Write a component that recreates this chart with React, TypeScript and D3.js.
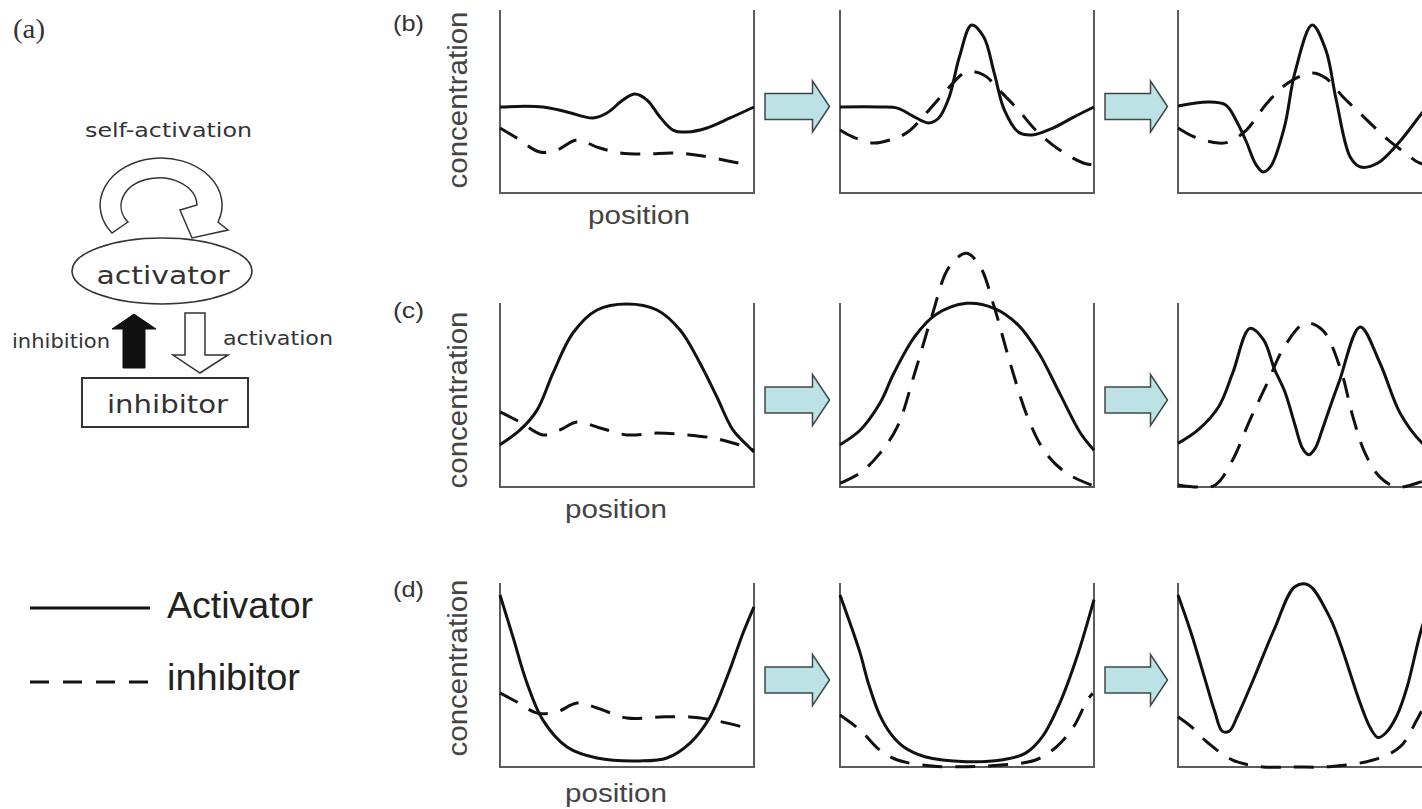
import React from 'react';
import * as d3 from 'd3';

type Pt = [number, number];

// ---- Data (position 0..100, concentration 0..100) ----
const b1Activator: Pt[] = [[0,47],[16.9,47],[26.4,44.3],[36.6,41],[42.1,43.7],[48.4,50.8],[53.1,54.1],[57.9,50.8],[63,41.5],[68.1,34.4],[73.6,33.3],[81.5,35.5],[90.6,41],[100,47]];
const b1Inhibitor: Pt[] = [[0,35.5],[6.7,30],[15.7,22.4],[22.4,23.5],[30.3,29],[38.2,25.1],[47.2,21.9],[57.9,21.3],[68.1,21.9],[79.9,20.2],[95.7,15.8]];
const b2Activator: Pt[] = [[0,47],[15.7,47],[22.6,46.4],[29.4,41.5],[34.8,38.3],[38.9,41],[43,52.5],[47,74.3],[51.8,91.8],[56.6,85.2],[60.7,65.6],[64.7,45.4],[70.2,33.3],[75.6,31.7],[83.8,35.5],[92,41.5],[100,47]];
const b2Inhibitor: Pt[] = [[0,34.4],[5.1,30.6],[13,27.3],[19.8,29],[26.7,33.3],[36.1,47],[43,57.9],[49.8,66.1],[56.6,64.5],[63.4,55.2],[70.2,45.4],[77,34.4],[86.5,23.5],[95.8,16.4],[100,15.3]];
const b3Activator: Pt[] = [[0,47.5],[12,49.7],[18.8,48.1],[22.8,39.9],[26.9,28],[30.5,16],[33.5,11.5],[36.5,14.5],[41.9,36.1],[46,65.6],[52.8,91.8],[58.2,78.1],[62.3,50.8],[67.8,19.7],[71.9,14.2],[78.7,16.4],[86.8,27.3],[96.1,43.7],[100,50]];
const b3Inhibitor: Pt[] = [[0,35.5],[6.5,30.6],[16,27.3],[20.1,27.9],[26.9,34.4],[35.1,49.2],[43.3,60.1],[52.8,65.6],[58.2,62.8],[65,52.5],[73.2,41.5],[82.7,29],[89.5,21.9],[95,16.4],[100,15]];

const c1Activator: Pt[] = [[0,23],[7.9,31],[14.6,41.8],[20.9,62],[28.7,83.7],[38.2,96.2],[50,99.5],[61.8,96.2],[70.9,85.3],[78.7,67.4],[85.4,48.9],[91.7,31],[98.4,21.2],[100,19]];
const c1Inhibitor: Pt[] = [[0,40.8],[7.9,35.3],[16.9,28.3],[23.6,31],[30.3,35.3],[39.4,32.1],[50,28.3],[61.8,29.3],[73.6,28.3],[83.9,26.6],[91.7,23.9],[100,20]];
const c2Activator: Pt[] = [[0,23],[8,31],[15.7,45.5],[21.2,61.8],[29.4,81.7],[37.5,93.5],[49.8,99.8],[60.7,97.1],[70.2,88],[78.3,72.7],[86.5,50.9],[94.7,29.2],[100,20]];
const c2Inhibitor: Pt[] = [[0,2],[7.9,7.6],[15.7,18.3],[22.6,32.8],[29.4,61.8],[36.1,92.6],[43,119.7],[49.8,127],[55.2,119.7],[60.7,98],[67.4,65.4],[74.3,36.4],[81.1,18.3],[89.3,7.4],[100,0.5]];
const c3Activator: Pt[] = [[0,23.7],[7.9,31],[16,43.6],[21.5,61.8],[28.3,86.2],[33.7,79.9],[38,64],[42,52],[46,34],[49,21],[51.4,17.5],[54,21],[57,32],[61,48],[63.7,58.2],[71.7,87],[79.5,67.4],[87.4,40.2],[96.1,23.9],[100,20]];
const c3Inhibitor: Pt[] = [[0,1.1],[7.9,0],[14.7,1.1],[21.5,14.7],[28.3,36.4],[35.1,56.4],[41.9,76.3],[50.1,89],[56.9,85.3],[63.7,65.4],[68.9,38],[73.6,18.5],[79.5,5.4],[86.2,0],[96.1,3],[100,5]];

const d1Activator: Pt[] = [[0,93.5],[5.1,70.7],[10.6,45.7],[16.9,25.5],[26.4,10.9],[38.2,4.9],[55.1,3.3],[65.7,4.9],[74.8,13],[82.7,27.2],[89.4,48.9],[95.7,72.8],[100,87]];
const d1Inhibitor: Pt[] = [[0,40.2],[6.7,35.3],[14.6,29.3],[22.4,29.9],[30.3,34.8],[38.2,32.1],[50,26.6],[63,27.2],[74.8,27.2],[83.9,25.5],[95.7,21.7]];
const d2Activator: Pt[] = [[0,93.5],[4,78],[7.9,62],[11.5,44],[15.7,28],[20,18],[25,11],[33.4,5.6],[49.8,2.9],[63.4,3.8],[72.9,7.4],[79.7,16.5],[86.5,34.6],[93.3,59.9],[100,91]];
const d2Inhibitor: Pt[] = [[0,28.3],[7.9,20.1],[15.7,9.2],[22.6,3.8],[36.1,0.5],[49.8,0.2],[63.4,1.1],[77,3.8],[85.2,11],[92,21.9],[97.4,36.4],[99.5,40]];
const d3Activator: Pt[] = [[0,93.5],[5.2,72.7],[11,46],[14.5,30],[17.4,19.5],[20.2,19.5],[23.5,28],[29.6,47.3],[37.8,74.5],[46,98],[51.4,98.9],[59.6,81.7],[63.8,67.4],[71.7,34.8],[75.8,21],[78.7,16],[81.8,18.5],[86.2,28],[90.2,43.5],[96.1,76.1],[100,90]];
const d3Inhibitor: Pt[] = [[0,27.3],[5.2,21.9],[12,12.9],[21.5,3.8],[32.4,0.2],[46,0],[59.6,0.2],[76.8,3.8],[87.4,10.9],[94,25.5],[96.1,31],[100,40]];

const rowLabels = ['(b)', '(c)', '(d)'];
const xAxisLabel = 'position';
const yAxisLabel = 'concentration';
const legendLabels = ['Activator', 'inhibitor'];

const rowSeries: [Pt[], Pt[]][][] = [
  [[b1Activator, b1Inhibitor], [b2Activator, b2Inhibitor], [b3Activator, b3Inhibitor]],
  [[c1Activator, c1Inhibitor], [c2Activator, c2Inhibitor], [c3Activator, c3Inhibitor]],
  [[d1Activator, d1Inhibitor], [d2Activator, d2Inhibitor], [d3Activator, d3Inhibitor]],
];

// ---- Layout ----
const PLOT_W = 254;
const COL_LEFT = [500, 840, 1178];
const ROWS = [
  { top: 10, bottom: 193, labelY: 31, yLabCy: 100, xLabCx: 639, xLabY: 224 },
  { top: 303, bottom: 487, labelY: 318, yLabCy: 400, xLabCx: 616, xLabY: 518 },
  { top: 583, bottom: 767, labelY: 597, yLabCy: 668, xLabCx: 616, xLabY: 802 },
];
const SANS = '"Liberation Sans", Arial, Helvetica, sans-serif';

function Plot({ left, top, bottom, act, inh }: any) {
  const x = d3.scaleLinear().domain([0, 100]).range([left, left + PLOT_W]);
  const y = d3.scaleLinear().domain([0, 100]).range([bottom, top]);
  const line = d3.line<Pt>().x(d => x(d[0])).y(d => y(d[1])).curve(d3.curveCatmullRom.alpha(0.5));
  return (
    <g>
      <path d={`M${x(0)},${y(100)}V${y(0)}H${x(100)}V${y(100)}`} fill="none" stroke="#5c5c5c" strokeWidth={2} />
      <path d={line(act) || ''} fill="none" stroke="#111" strokeWidth={3} strokeLinejoin="round" />
      <path d={line(inh) || ''} fill="none" stroke="#111" strokeWidth={3} strokeDasharray="20 13" />
    </g>
  );
}

function BlockArrow({ x0, x1, cy }: { x0: number; x1: number; cy: number }) {
  const headLen = 17, bodyH = 13, headH = 25.5;
  const hx = x1 - headLen;
  const pts = [
    [x0, cy - bodyH], [hx, cy - bodyH], [hx, cy - headH], [x1, cy],
    [hx, cy + headH], [hx, cy + bodyH], [x0, cy + bodyH],
  ].map(p => p.join(',')).join(' ');
  return <polygon points={pts} fill="#bde2e6" stroke="#3c4748" strokeWidth={1.5} strokeLinejoin="miter" />;
}

function PanelA() {
  const txt = '#333';
  const diagFont = '"DejaVu Sans", "Noto Sans", sans-serif';
  return (
    <g>
      <text x={13} y={38} fontFamily='"Liberation Serif", "DejaVu Serif", serif' fontSize={27} fill={txt} textLength={32} lengthAdjust="spacingAndGlyphs">(a)</text>
      <text x={85} y={137} fontFamily={diagFont} fontSize={19} fill={txt} textLength={167} lengthAdjust="spacingAndGlyphs">self-activation</text>
      <path d="M112,233 A61,47 0 1 1 218,222 L228,230 L192,238 L180,210 L197,205 A38,28 0 1 0 128,222 Z"
        fill="#fff" stroke="#333" strokeWidth={1.5} strokeLinejoin="miter" />
      <ellipse cx={162} cy={271} rx={90} ry={33} fill="#fff" stroke="#333" strokeWidth={1.6} />
      <text x={163} y={284} textAnchor="middle" fontFamily={diagFont} fontSize={25} fill={txt} textLength={133} lengthAdjust="spacingAndGlyphs">activator</text>
      <polygon points="134,314 156,329 145,329 145,368 123,368 123,329 112,329" fill="#111" stroke="#111" strokeWidth={1} />
      <polygon points="185,313 205,313 205,355 228,355 200,373 173,355 185,355" fill="#fff" stroke="#333" strokeWidth={1.5} />
      <text x={12} y={348} fontFamily={diagFont} fontSize={19} fill={txt} textLength={98} lengthAdjust="spacingAndGlyphs">inhibition</text>
      <text x={223} y={345} fontFamily={diagFont} fontSize={19} fill={txt} textLength={110} lengthAdjust="spacingAndGlyphs">activation</text>
      <rect x={82} y={378} width={166} height={49} fill="#fff" stroke="#333" strokeWidth={2} />
      <text x={107} y={413} fontFamily={diagFont} fontSize={25} fill={txt} textLength={121} lengthAdjust="spacingAndGlyphs">inhibitor</text>
    </g>
  );
}

function Legend() {
  return (
    <g>
      <line x1={30} x2={150} y1={608} y2={608} stroke="#111" strokeWidth={3} />
      <text x={167} y={618} fontFamily={SANS} fontSize={36} fill="#222" textLength={146} lengthAdjust="spacingAndGlyphs">{legendLabels[0]}</text>
      <line x1={30} x2={148} y1={682} y2={682} stroke="#111" strokeWidth={3} strokeDasharray="19 14" />
      <text x={167} y={690} fontFamily={SANS} fontSize={36} fill="#222" textLength={133} lengthAdjust="spacingAndGlyphs">{legendLabels[1]}</text>
    </g>
  );
}

export default function App() {
  return (
    <svg width={1422} height={809} style={{ position: 'absolute', left: 0, top: 0, display: 'block', background: '#fff' }}>
      <rect x={0} y={0} width={1422} height={809} fill="#fff" />
      <PanelA />
      <Legend />
      {ROWS.map((r, ri) => (
        <g key={ri}>
          <text x={393} y={r.labelY} fontFamily={SANS} fontSize={22} fill="#333" textLength={31} lengthAdjust="spacingAndGlyphs">{rowLabels[ri]}</text>
          <text transform={`translate(467,${r.yLabCy}) rotate(-90)`} textAnchor="middle" fontFamily={SANS} fontSize={27} fill="#444" textLength={177} lengthAdjust="spacingAndGlyphs">{yAxisLabel}</text>
          <text x={r.xLabCx} y={r.xLabY} textAnchor="middle" fontFamily={SANS} fontSize={25} fill="#444" textLength={102} lengthAdjust="spacingAndGlyphs">{xAxisLabel}</text>
          {COL_LEFT.map((left, ci) => (
            <Plot key={ci} left={left} top={r.top} bottom={r.bottom} act={rowSeries[ri][ci][0]} inh={rowSeries[ri][ci][1]} />
          ))}
          {[0, 1].map(ci => (
            <BlockArrow key={ci} x0={COL_LEFT[ci] + PLOT_W + 11} x1={COL_LEFT[ci + 1] - 10.5} cy={(r.top + r.bottom) / 2 + 5} />
          ))}
        </g>
      ))}
    </svg>
  );
}
